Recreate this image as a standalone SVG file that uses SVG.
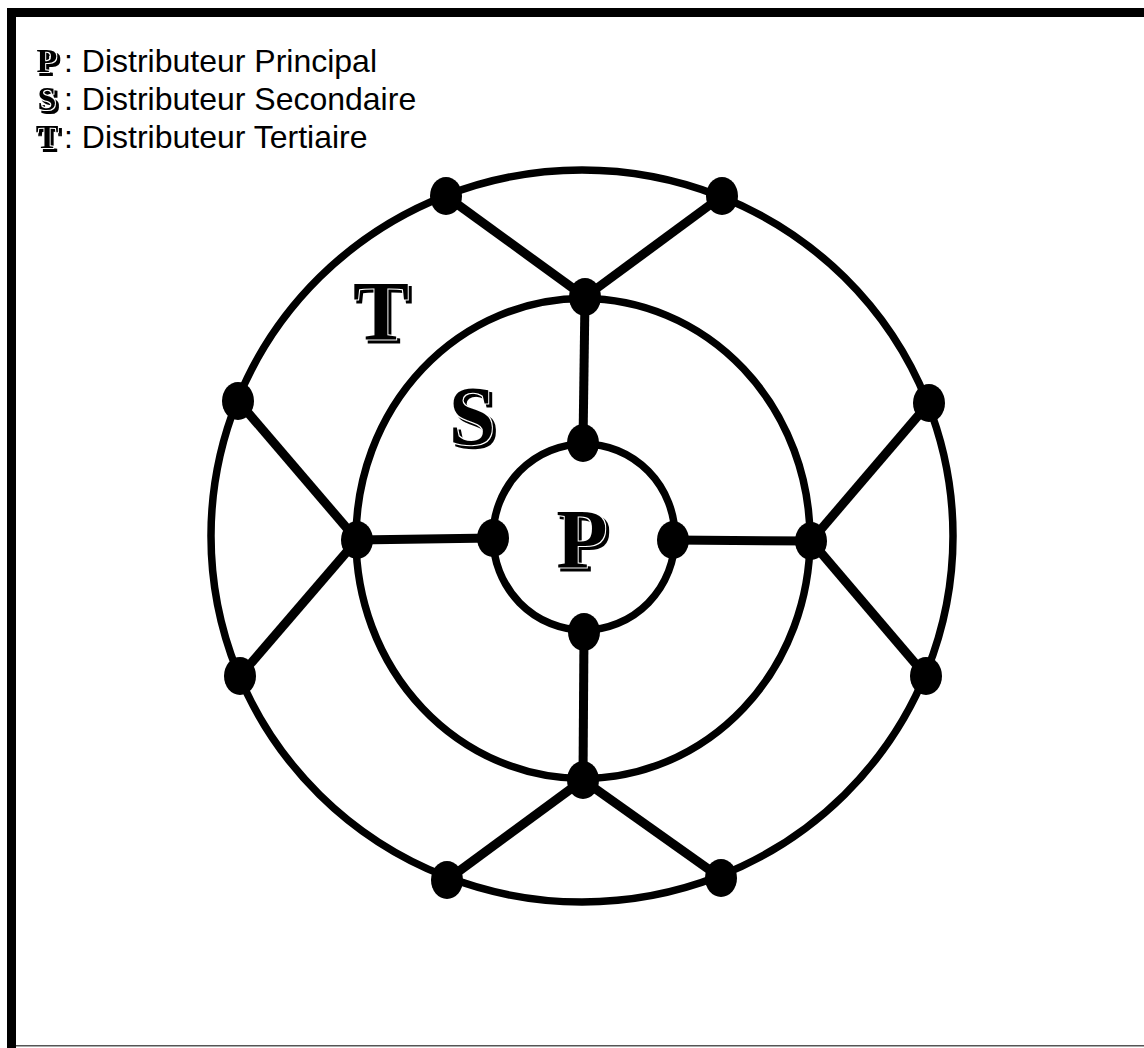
<svg xmlns="http://www.w3.org/2000/svg" width="1144" height="1048" viewBox="0 0 1144 1048">
<defs>
<style>
.ring{fill:none;stroke:#000;stroke-width:7.5}
.spoke{stroke:#000;stroke-width:9;stroke-linecap:butt}
.node{fill:#000}
.big{font-family:"Liberation Serif","DejaVu Serif",serif;font-weight:bold;fill:#000;text-anchor:middle}
.leg{font-family:"Liberation Sans",Arial,sans-serif;font-size:32px;fill:#000}
</style>
<filter id="engrave" x="-20%" y="-20%" width="140%" height="140%">
<feMorphology in="SourceAlpha" operator="dilate" radius="1.3" result="halo"/>
<feOffset in="SourceAlpha" dx="2.6" dy="2.6" result="off"/>
<feMorphology in="off" operator="dilate" radius="0.7" result="offd"/>
<feComposite in="offd" in2="halo" operator="out" result="shadow"/>
<feMerge><feMergeNode in="shadow"/><feMergeNode in="SourceGraphic"/></feMerge>
</filter>
</defs>
<rect x="0" y="0" width="1144" height="1048" fill="#fff"/>
<g id="frame">
<rect x="7" y="8" width="1137" height="9" fill="#000"/>
<rect x="7" y="8" width="9" height="1040" fill="#000"/>
<rect x="16" y="1045" width="1128" height="1.5" fill="#555"/>
</g>
<g id="legend">
<text class="big" x="47" y="72" font-size="34" filter="url(#engrave)">P</text>
<text class="leg" x="64" y="72">: Distributeur Principal</text>
<text class="big" x="47" y="110" font-size="34" filter="url(#engrave)">S</text>
<text class="leg" x="64" y="110">: Distributeur Secondaire</text>
<text class="big" x="47" y="148" font-size="34" filter="url(#engrave)">T</text>
<text class="leg" x="64" y="148">: Distributeur Tertiaire</text>
</g>
<g id="rings">
<ellipse id="ring-tertiaire" class="ring" cx="582" cy="536" rx="371" ry="366"/>
<ellipse id="ring-secondaire" class="ring" cx="583" cy="538.5" rx="227" ry="240"/>
<ellipse id="ring-principal" class="ring" cx="584" cy="537" rx="91" ry="93"/>
</g>
<g id="connectors">
<line class="spoke" x1="585" y1="297" x2="583" y2="443"/>
<line class="spoke" x1="357" y1="540" x2="493" y2="538"/>
<line class="spoke" x1="673" y1="540" x2="811" y2="541"/>
<line class="spoke" x1="584" y1="632" x2="583" y2="780"/>
<line class="spoke" x1="585" y1="297" x2="446" y2="196"/>
<line class="spoke" x1="585" y1="297" x2="722" y2="196"/>
<line class="spoke" x1="357" y1="540" x2="238" y2="401"/>
<line class="spoke" x1="357" y1="540" x2="240" y2="676"/>
<line class="spoke" x1="811" y1="541" x2="929" y2="403"/>
<line class="spoke" x1="811" y1="541" x2="926" y2="676"/>
<line class="spoke" x1="583" y1="780" x2="447" y2="880"/>
<line class="spoke" x1="583" y1="780" x2="721" y2="878"/>
</g>
<g id="node-p-top"><ellipse class="node" cx="583" cy="443" rx="16" ry="19"/></g>
<g id="node-p-left"><ellipse class="node" cx="493" cy="538" rx="16" ry="19"/></g>
<g id="node-p-right"><ellipse class="node" cx="673" cy="540" rx="16" ry="19"/></g>
<g id="node-p-bottom"><ellipse class="node" cx="584" cy="632" rx="16" ry="19"/></g>
<g id="node-s-top"><ellipse class="node" cx="585" cy="297" rx="16" ry="19"/></g>
<g id="node-s-left"><ellipse class="node" cx="357" cy="540" rx="16" ry="19"/></g>
<g id="node-s-right"><ellipse class="node" cx="811" cy="541" rx="16" ry="19"/></g>
<g id="node-s-bottom"><ellipse class="node" cx="583" cy="780" rx="16" ry="19"/></g>
<g id="node-t-1"><ellipse class="node" cx="446" cy="196" rx="16" ry="19"/></g>
<g id="node-t-2"><ellipse class="node" cx="722" cy="196" rx="16" ry="19"/></g>
<g id="node-t-3"><ellipse class="node" cx="238" cy="401" rx="16" ry="19"/></g>
<g id="node-t-4"><ellipse class="node" cx="240" cy="676" rx="16" ry="19"/></g>
<g id="node-t-5"><ellipse class="node" cx="929" cy="403" rx="16" ry="19"/></g>
<g id="node-t-6"><ellipse class="node" cx="926" cy="676" rx="16" ry="19"/></g>
<g id="node-t-7"><ellipse class="node" cx="447" cy="880" rx="16" ry="19"/></g>
<g id="node-t-8"><ellipse class="node" cx="721" cy="878" rx="16" ry="19"/></g>
<g id="labels">
<text class="big" x="381" y="340" font-size="84" filter="url(#engrave)">T</text>
<text class="big" x="472" y="445" font-size="84" filter="url(#engrave)">S</text>
<text class="big" x="582" y="568" font-size="84" filter="url(#engrave)">P</text>
</g>
</svg>
